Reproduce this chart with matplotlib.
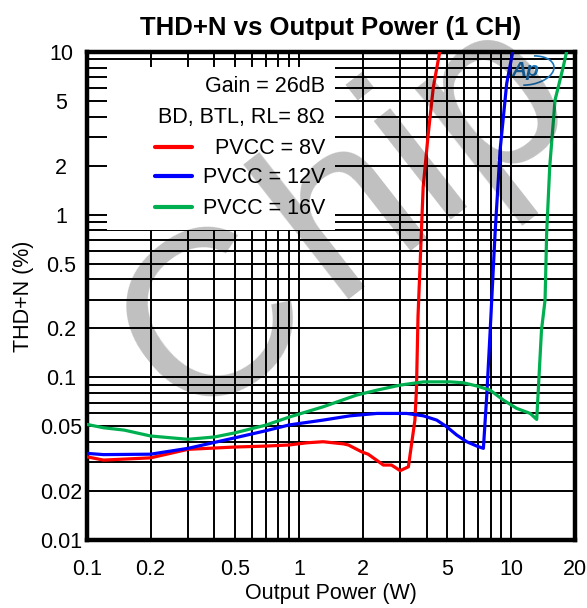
import matplotlib
matplotlib.use('Agg')
import matplotlib.pyplot as plt
from matplotlib.patches import Rectangle, Arc
from matplotlib.ticker import FixedLocator, FixedFormatter, LogLocator, NullFormatter

plt.rcParams['font.family'] = ['Liberation Sans', 'DejaVu Sans']

# data (Output power in W, THD+N in %)
p_8v = [0.1, 0.12, 0.2, 0.3, 0.5, 0.7, 0.9, 1.09, 1.3, 1.62, 1.71, 1.98, 2.12, 2.5, 2.73,
        3.0, 3.28, 3.52, 3.58, 3.64, 3.72, 3.85, 4.07, 4.3, 4.62]
thd_8v = [0.0325, 0.031, 0.032, 0.0361, 0.0373, 0.0378, 0.0384, 0.0396, 0.0402, 0.039, 0.0384,
          0.0348, 0.0337, 0.0289, 0.0289, 0.0267, 0.0282, 0.0546, 0.085, 0.236, 0.478, 1.48,
          3.16, 6.1, 10.2]
p_12v = [0.1, 0.12, 0.2, 0.3, 0.5, 0.7, 0.9, 1.3, 1.74, 2.33, 3.22, 3.86, 4.46, 4.97, 5.54,
         6.18, 6.89, 7.4, 7.67, 7.96, 8.4, 8.87, 9.53, 10.2]
thd_12v = [0.0341, 0.0335, 0.0337, 0.0366, 0.0425, 0.047, 0.051, 0.0546, 0.058, 0.06, 0.06,
           0.058, 0.0546, 0.0497, 0.0442, 0.0402, 0.0378, 0.0366, 0.076, 0.19, 0.768, 2.49,
           6.4, 10.2]
p_16v = [0.1, 0.12, 0.15, 0.2, 0.3, 0.4, 0.5, 0.7, 0.9, 1.3, 1.87, 2.33, 3.0, 3.86, 5.15,
         5.96, 6.89, 7.96, 9.19, 10.6, 12.3, 13.2, 13.9, 14.45, 14.7, 15.2, 16.1, 17.6, 18.3]
thd_16v = [0.0514, 0.049, 0.0474, 0.0436, 0.0416, 0.043, 0.0456, 0.0509, 0.057, 0.0659,
           0.0778, 0.0834, 0.0896, 0.0938, 0.0938, 0.0926, 0.0885, 0.0834, 0.0725, 0.0645,
           0.06, 0.0551, 0.195, 0.299, 0.768, 1.97, 5.06, 8.1, 10.2]

x_ticks = [0.1, 0.2, 0.5, 1, 2, 5, 10, 20]
x_labels = ['0.1', '0.2', '0.5', '1', '2', '5', '10', '20']
y_ticks = [0.01, 0.02, 0.05, 0.1, 0.2, 0.5, 1, 2, 5, 10]
y_labels = ['0.01', '0.02', '0.05', '0.1', '0.2', '0.5', '1', '2', '5', '10']

legend_rows = ['Gain = 26dB', 'BD, BTL, RL= 8\u03a9', 'PVCC = 8V', 'PVCC = 12V', 'PVCC = 16V']
colors = ['#ff0000', '#0000ff', '#00b050']

fig = plt.figure(figsize=(5.87, 6.08), dpi=100)
ax = fig.add_axes([0.1477, 0.1118, 0.9796 - 0.1477, 0.9145 - 0.1118])
ax.set_xscale('log')
ax.set_yscale('log')
ax.set_xlim(0.1, 20)
ax.set_ylim(0.01, 10)

ax.xaxis.set_major_locator(FixedLocator(x_ticks))
ax.xaxis.set_major_formatter(FixedFormatter(x_labels))
ax.yaxis.set_major_locator(FixedLocator(y_ticks))
ax.yaxis.set_major_formatter(FixedFormatter(y_labels))
ax.xaxis.set_minor_locator(LogLocator(base=10, subs=range(1, 10), numticks=20))
ax.yaxis.set_minor_locator(LogLocator(base=10, subs=range(1, 10), numticks=20))
ax.xaxis.set_minor_formatter(NullFormatter())
ax.yaxis.set_minor_formatter(NullFormatter())
ax.tick_params(which='both', length=0)
ax.tick_params(axis='x', pad=14, labelsize=15.5)
ax.tick_params(axis='y', pad=18.5, labelsize=15.5)
for lbl in ax.get_yticklabels():
    lbl.set_horizontalalignment('center')
ax.grid(which='both', color='black', linewidth=1.4)
for s in ax.spines.values():
    s.set_linewidth(3.2)

ax.plot(p_8v, thd_8v, color=colors[0], linewidth=2.3, zorder=4)
ax.plot(p_12v, thd_12v, color=colors[1], linewidth=2.3, zorder=4)
ax.plot(p_16v, thd_16v, color=colors[2], linewidth=2.3, zorder=4)

# legend box drawn by hand (text is right aligned in the original)
ax.add_patch(Rectangle((0.0416, 0.635), 0.467, 0.334, transform=ax.transAxes,
                       facecolor='white', edgecolor='none', zorder=2.5))
row_y = [0.929, 0.865, 0.803, 0.742, 0.680]
for txt, yy in zip(legend_rows, row_y):
    ax.text(0.488, yy, txt, transform=ax.transAxes, ha='right', va='center',
            fontsize=15.5, zorder=3)
for c, yy in zip(colors, row_y[2:]):
    ax.plot([0.140, 0.216], [yy + 0.003, yy + 0.003], transform=ax.transAxes,
            color=c, linewidth=3, solid_capstyle='round', zorder=3)

# Audio Precision logo
ax.text(0.898, 0.962, 'Ap', transform=ax.transAxes, ha='center', va='center',
        fontsize=15, fontstyle='italic', fontweight='bold', color='#1a75bc', zorder=3)
ax.add_patch(Arc((0.905, 0.962), 0.105, 0.058, angle=10, theta1=-120, theta2=60,
                 transform=ax.transAxes, color='#1a75bc', linewidth=1.2, zorder=3))

ax.set_xlabel('Output Power (W)', fontsize=15.5, labelpad=2)
ax.set_ylabel('THD+N (%)', fontsize=15.5, labelpad=4)
ax.set_title('THD+N vs Output Power (1 CH)', fontsize=18.5, fontweight='bold', pad=12.5)

# grey watermark, drawn as a dark overlay so it darkens like the original
fig.text(0.319, 0.302, 'C', fontsize=170, color='black', alpha=0.25,
         rotation=38, rotation_mode='anchor', ha='left', va='baseline', zorder=10)
fig.text(0.566, 0.508, 'hip', fontsize=170, color='black', alpha=0.25,
         rotation=38, rotation_mode='anchor', ha='left', va='baseline', zorder=10)

fig.savefig('out.png', dpi=100)
